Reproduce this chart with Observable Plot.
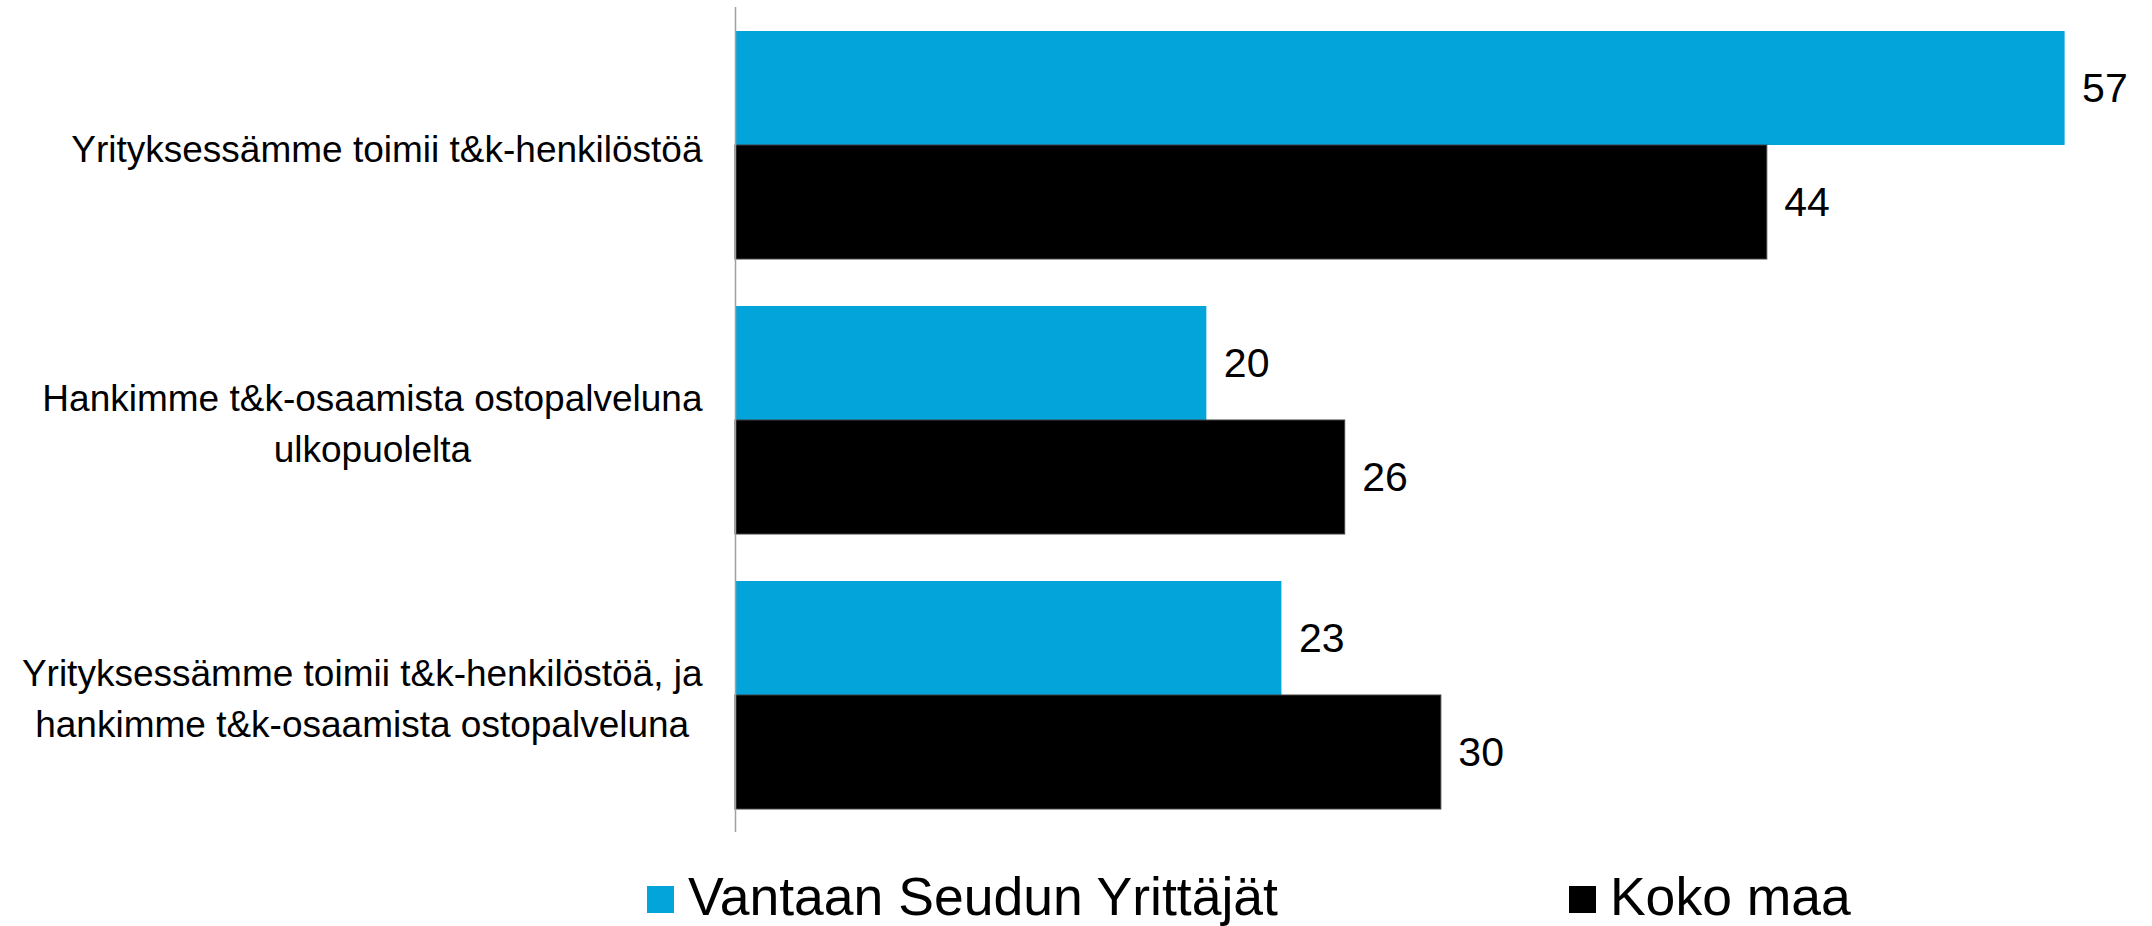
<!DOCTYPE html>
<html><head><meta charset="utf-8">
<script src="https://cdn.jsdelivr.net/npm/d3@7"></script>
<script src="https://cdn.jsdelivr.net/npm/@observablehq/plot@0.6"></script>
<style>
html,body{margin:0;padding:0;background:#fff;overflow:hidden;font-family:"Liberation Sans",Arial,sans-serif;}
#chart svg{display:block;}
#legend{display:flex;align-items:center;height:76px;box-sizing:border-box;padding-top:23px;padding-left:647px;}
.item{display:flex;align-items:center;font-size:53.5px;color:#000;line-height:1;}
.item + .item{margin-left:291px;}
.sw{width:27px;height:27px;margin-right:14px;flex:none;}
.lbl{position:relative;top:-3px;}
</style></head><body>
<div id="chart"></div>
<div id="legend"></div>
<script>
const categories = [
  "Yrityksessämme toimii t&k-henkilöstöä",
  "Hankimme t&k-osaamista ostopalveluna\nulkopuolelta",
  "Yrityksessämme toimii t&k-henkilöstöä, ja\nhankimme t&k-osaamista ostopalveluna"
];
const series = ["Vantaan Seudun Yrittäjät", "Koko maa"];
const vantaa = [56.7, 20.1, 23.3];
const kokoMaa = [44.0, 26.0, 30.1];
const colors = ["#02a4da", "#000000"];

const data = categories.flatMap((c, i) => [
  {category: c, series: series[0], value: vantaa[i]},
  {category: c, series: series[1], value: kokoMaa[i]}
]);

const FONT = '"Liberation Sans", Arial, sans-serif';
const ctx = document.createElement("canvas").getContext("2d");
ctx.font = '37px "Liberation Sans"';
const labelWidth = c => Math.max(...c.split("\n").map(l => ctx.measureText(l).width));

const labelMarks = categories.map(c => Plot.text([c], {
  fy: d => d, text: d => d,
  frameAnchor: "left", textAnchor: "middle", lineAnchor: "middle",
  dx: -33 - labelWidth(c) / 2,
  fontSize: 37, lineHeight: 1.4, fill: "#000"
}));

const chart = Plot.plot({
  width: 2152,
  height: 850,
  marginLeft: 735,
  marginRight: 10,
  marginTop: 7,
  marginBottom: 17,
  style: {fontFamily: FONT, background: "white", color: "#000"},
  x: {domain: [0, 60], axis: null},
  y: {domain: series, axis: null, padding: 0},
  fy: {domain: categories, axis: null, paddingInner: 0.1667, paddingOuter: 0.0833},
  color: {domain: series, range: colors},
  marks: [
    Plot.barX(data, {fy: "category", y: "series", x: "value", fill: "series"}),
    Plot.barX(data.filter(d => d.series === series[1]), {fy: "category", y: "series", x: "value", fill: "none", stroke: "#404040", strokeWidth: 1}),
    Plot.ruleX([0], {stroke: "#a0a0a0", strokeWidth: 1.5, insetTop: -23, insetBottom: -23}),
    Plot.text(data, {fy: "category", y: "series", x: "value", text: d => String(Math.round(d.value)),
      textAnchor: "start", dx: 17, fontSize: 41, fill: "#000"}),
    ...labelMarks
  ]
});
document.getElementById("chart").appendChild(chart);

const legend = document.getElementById("legend");
series.forEach((s, i) => {
  const item = document.createElement("div");
  item.className = "item";
  const sw = document.createElement("span");
  sw.className = "sw";
  sw.style.background = colors[i];
  const t = document.createElement("span");
  t.className = "lbl";
  t.textContent = s;
  item.appendChild(sw);
  item.appendChild(t);
  legend.appendChild(item);
});
</script>
</body></html>
